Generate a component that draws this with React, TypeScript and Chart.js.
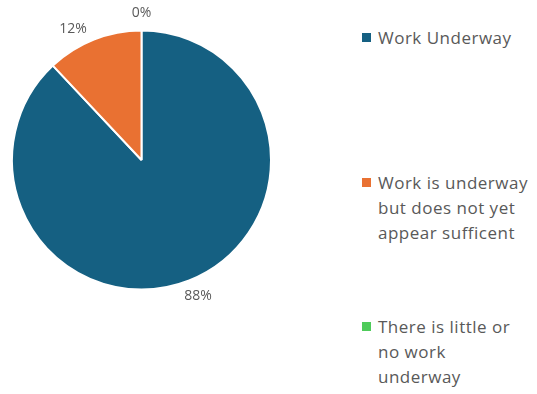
import React, { useEffect, useRef } from "react";
import { Chart, registerables } from "chart.js";

Chart.register(...registerables);

const categories = [
  "Work Underway",
  "Work is underway but does not yet appear sufficent",
  "There is little or no work underway",
];
const legendLines = [
  ["Work Underway"],
  ["Work is underway", "but does not yet", "appear sufficent"],
  ["There is little or", "no work", "underway"],
];
const values = [88, 12, 0];
const colors = ["#156082", "#E97132", "#4ECB5A"];

const labelPlugin = {
  id: "outsideLabels",
  afterDatasetsDraw(chart: any) {
    const ctx = chart.ctx;
    const meta = chart.getDatasetMeta(0);
    const total = values.reduce((a, b) => a + b, 0);
    ctx.save();
    ctx.font = "14px 'Open Sans', sans-serif";
    ctx.fillStyle = "#595959";
    meta.data.forEach((arc: any, i: number) => {
      const { x, y, startAngle, endAngle, outerRadius } = arc.getProps(
        ["x", "y", "startAngle", "endAngle", "outerRadius"],
        true
      );
      const mid = (startAngle + endAngle) / 2;
      const d = outerRadius + 10;
      const px = x + Math.cos(mid) * d;
      const py = y + Math.sin(mid) * d;
      const txt = Math.round((values[i] / total) * 100) + "%";
      const w = ctx.measureText(txt).width;
      const c = Math.cos(mid);
      const s = Math.sin(mid);
      const left = c < -0.2;
      const cx = px + c * (w / 2) - (left ? 12 : 0);
      const cy = py + s * 7 + (left ? 5 : 0);
      ctx.textAlign = "center";
      ctx.textBaseline = "middle";
      ctx.fillText(txt, cx, cy);
    });
    ctx.restore();
  },
};

export default function App() {
  const ref = useRef<HTMLCanvasElement>(null);
  useEffect(() => {
    document.body.style.margin = "0";
    const chart = new Chart(ref.current!, {
      type: "pie",
      data: {
        labels: categories,
        datasets: [
          {
            data: values,
            backgroundColor: colors,
            borderColor: "#ffffff",
            borderWidth: 2,
          },
        ],
      },
      options: {
        animation: false,
        responsive: false,
        maintainAspectRatio: false,
        layout: { padding: { left: 11, right: 12, top: 29, bottom: 29 } },
        plugins: {
          legend: { display: false },
          tooltip: { enabled: false },
        },
      },
      plugins: [labelPlugin],
    });
    return () => chart.destroy();
  }, []);

  return (
    <div
      style={{
        position: "relative",
        width: 537,
        height: 394,
        background: "#fff",
        fontFamily: "'Open Sans', sans-serif",
        overflow: "hidden",
      }}
    >
      <canvas
        ref={ref}
        width={284}
        height={320}
        style={{ position: "absolute", left: 0, top: 0, width: 284, height: 320 }}
      />
      {legendLines.map((lines, i) => (
        <div
          key={i}
          style={{
            position: "absolute",
            left: 362,
            top: 25 + i * 144.5,
            display: "flex",
            alignItems: "flex-start",
            color: "#595959",
            fontSize: 17,
            letterSpacing: "0.5px",
            lineHeight: "25px",
          }}
        >
          <span
            style={{
              display: "inline-block",
              width: 9,
              height: 9,
              background: colors[i],
              marginTop: 8,
              marginRight: 7,
              flex: "none",
            }}
          />
          <div>
            {lines.map((l, j) => (
              <div key={j} style={{ whiteSpace: "nowrap" }}>
                {l}
              </div>
            ))}
          </div>
        </div>
      ))}
    </div>
  );
}
